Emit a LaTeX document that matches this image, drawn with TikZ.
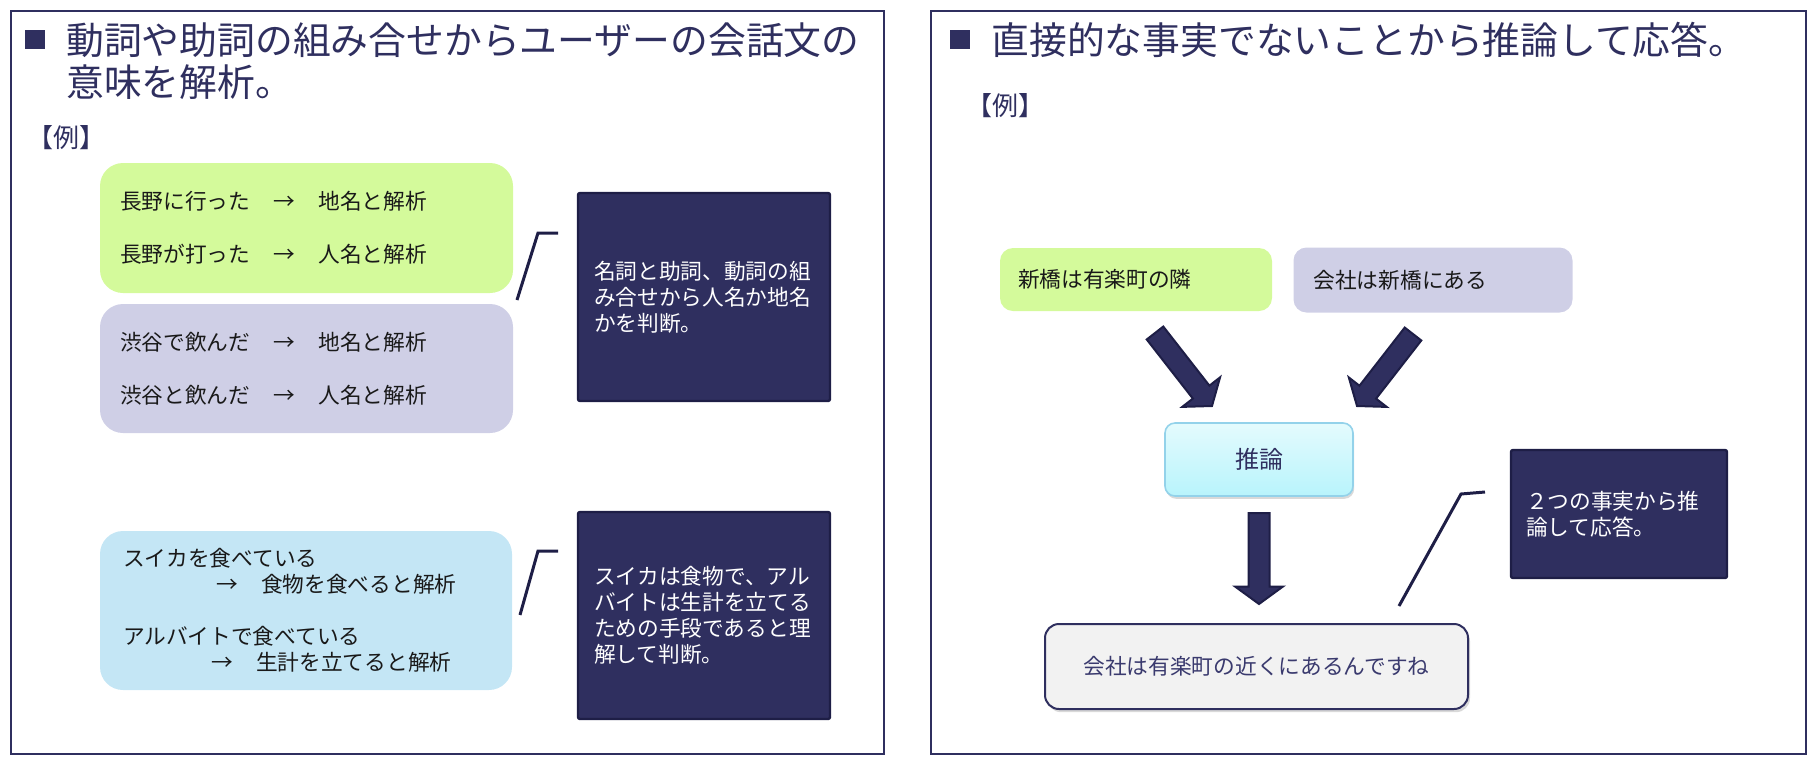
\documentclass[tikz,border=0pt]{standalone}
\usepackage{fontspec}
\setmainfont{Noto Sans CJK JP}
\usetikzlibrary{calc,shadows}
\definecolor{navy}{RGB}{47,47,95}
\definecolor{navyd}{RGB}{30,30,70}
\definecolor{lgreen}{RGB}{212,250,155}
\definecolor{lav}{RGB}{207,207,230}
\definecolor{lblue}{RGB}{196,230,245}
\definecolor{infTop}{RGB}{228,251,253}
\definecolor{infBot}{RGB}{184,244,252}
\definecolor{infBorder}{RGB}{147,210,234}
\definecolor{conclFill}{RGB}{242,242,242}
\definecolor{txt}{RGB}{25,25,25}
\definecolor{concltxt}{RGB}{58,58,110}
\newcommand\arr{\makebox[1.15em]{→}}
\newcommand\blockarrow[2]{%
  \filldraw[blockarr] let \p1=($(#2)-(#1)$), \n1={atan2(\y1,\x1)}, \n2={veclen(\x1,\y1)} in
   ($(#1)+(\n1-90:5.25pt)$)
   -- ($(#1)+(\n1:\n2-8.75pt)+(\n1-90:5.25pt)$)
   -- ($(#1)+(\n1:\n2-8.75pt)+(\n1-90:12pt)$)
   -- (#2)
   -- ($(#1)+(\n1:\n2-8.75pt)+(\n1+90:12pt)$)
   -- ($(#1)+(\n1:\n2-8.75pt)+(\n1+90:5.25pt)$)
   -- ($(#1)+(\n1+90:5.25pt)$) -- cycle;}
\begin{document}
\begin{tikzpicture}[x=0.5pt,y=-0.5pt,
  frame/.style={draw=navy, line width=1.4pt},
  title/.style={anchor=west, inner sep=0pt, text=navy, align=left, font=\fontsize{18.9pt}{21pt}\selectfont},
  rei/.style={inner sep=0pt, text=navy, font=\fontsize{13pt}{15pt}\selectfont},
  softbox/.style={rounded corners=11.5pt, inner ysep=0pt, align=left, text=txt},
  bodyfont/.style={font=\fontsize{10.85pt}{#1}\selectfont},
  darkbox/.style={fill=navy, draw=navyd, line width=1.2pt, rounded corners=1pt, inner ysep=0pt, text=white, align=left, font=\fontsize{10.85pt}{13pt}\selectfont},
  callout/.style={draw=navyd, line width=1.5pt},
  blockarr/.style={fill=navy, draw=navyd, line width=1pt, line join=miter},
  rightbox/.style={rounded corners=6.5pt, inner ysep=0pt, align=left, text=txt, font=\fontsize{10.85pt}{13pt}\selectfont},
  infer/.style={rounded corners=5pt, top color=infTop, bottom color=infBot, draw=infBorder, line width=0.8pt, text=navy, font=\fontsize{12pt}{14pt}\selectfont, minimum width=94pt, minimum height=36.5pt, inner sep=0pt, drop shadow={opacity=0.3, shadow xshift=0.6pt, shadow yshift=-1.4pt}},
  concl/.style={rounded corners=7pt, fill=conclFill, draw=navy, line width=1pt, text=concltxt, font=\fontsize{10.85pt}{13pt}\selectfont, minimum width=211.5pt, minimum height=42.5pt, inner sep=0pt, drop shadow={opacity=0.3, shadow xshift=1pt, shadow yshift=-1.6pt}}
]
\useasboundingbox (0,0) rectangle (1811,757);
% frames
\draw[frame] (11,11) rectangle (884,754);
\draw[frame] (931,11) rectangle (1806,754);
\fill[navy] (25,30) rectangle (45,49);
\fill[navy] (950,30) rectangle (970,49);
% titles
\node[title] (titleL) at (66,61) {動詞や助詞の組み合せからユーザーの会話文の\\意味を解析。};
\node[rei] (reiL) at (66,138) {【例】};
\node[title] (titleR) at (991,40) {直接的な事実でないことから推論して応答。};
\node[rei] (reiR) at (1005,106) {【例】};
% left panel boxes
\node[softbox, fill=lgreen, minimum height=65pt, inner xsep=10pt, text width=186.5pt, bodyfont=26.5pt] (g1) at (306.5,228)
  {長野に行った　\arr　地名と解析\\長野が打った　\arr　人名と解析};
\node[softbox, fill=lav, minimum height=64.5pt, inner xsep=10pt, text width=186.5pt, bodyfont=26.5pt] (l1) at (306.5,368.5)
  {渋谷で飲んだ　\arr　地名と解析\\渋谷と飲んだ　\arr　人名と解析};
\node[softbox, fill=lblue, minimum height=79.5pt, inner xsep=11.5pt, text width=183pt, bodyfont=13pt] (b1) at (306,610.5)
  {スイカを食べている\\\hspace*{45.75pt}\arr　食物を食べると解析\\[13pt]アルバイトで食べている\\\hspace*{43.25pt}\arr　生計を立てると解析};
% dark boxes
\node[darkbox, minimum height=104pt, inner xsep=8pt, text width=110pt] (d1) at (704,297)
  {名詞と助詞、動詞の組\\み合せから人名か地名\\かを判断。};
\node[darkbox, minimum height=103.5pt, inner xsep=8pt, text width=110pt] (d2) at (704,615.5)
  {スイカは食物で、アル\\バイトは生計を立てる\\ための手段であると理\\解して判断。};
% callouts left
\coordinate (c1a) at (517,300);
\coordinate (c1b) at (538,233);
\coordinate (c1c) at (558,233);
\draw[callout] (c1a) -- (c1b) -- (c1c);
\coordinate (c2a) at (520,615);
\coordinate (c2b) at (538,551);
\coordinate (c2c) at (558,551);
\draw[callout] (c2a) -- (c2b) -- (c2c);
% right panel
\node[rightbox, fill=lgreen, minimum height=31.5pt, inner xsep=9pt, text width=118pt] (g2) at (1136,279.5) {新橋は有楽町の隣};
\node[rightbox, fill=lav, minimum height=32.5pt, inner xsep=10pt, text width=119.5pt] (l2) at (1433,280) {会社は新橋にある};
\node[infer] (inf) at (1259,459.5) {推論};
\node[concl] (res) at (1256.5,666.5) {会社は有楽町の近くにあるんですね};
\node[darkbox, minimum height=64pt, inner xsep=7.5pt, text width=93pt] (d3) at (1619,514)
  {２つの事実から推\\論して応答。};
% block arrows
\coordinate (a1s) at (1155,333);
\coordinate (a1e) at (1212,406);
\coordinate (a2s) at (1413,334);
\coordinate (a2e) at (1357,406);
\coordinate (a3s) at (1259,513);
\coordinate (a3e) at (1259,604);
\blockarrow{a1s}{a1e}
\blockarrow{a2s}{a2e}
\blockarrow{a3s}{a3e}
% callout right
\coordinate (c3a) at (1399,606);
\coordinate (c3b) at (1461,494);
\coordinate (c3c) at (1485,492);
\draw[callout] (c3a) -- (c3b) -- (c3c);
\end{tikzpicture}
\end{document}
